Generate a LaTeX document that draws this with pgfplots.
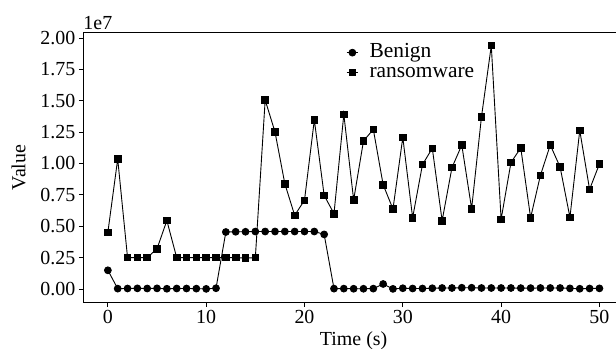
\documentclass[border=0pt]{standalone}
\usepackage{pgfplots}
\pgfplotsset{compat=1.18}
\usepackage{fontspec}
\setmainfont{Liberation Serif}
\begin{document}
\begin{tikzpicture}[font=\fontsize{20}{24}\selectfont]
\begin{axis}[
  scale only axis,
  width=540.7bp, height=269.6bp,
  xmin=-2.5, xmax=52.5,
  ymin=-0.106, ymax=2.042,
  xtick={0,10,20,30,40,50},
  ytick={0,0.25,0.5,0.75,1,1.25,1.5,1.75,2},
  yticklabel style={/pgf/number format/.cd, fixed, fixed zerofill, precision=2},
  /pgf/number format/assume math mode=true,
  tick label style={font=\fontsize{20}{24}\selectfont},
  label style={font=\fontsize{20}{24}\selectfont},
  xtick pos=lower, ytick pos=left,
  tick align=outside,
  major tick length=4.5bp,
  tick style={black, line width=0.8bp},
  axis line style={line width=0.9bp},
  xlabel={Time (s)}, ylabel={Value},
  xlabel style={yshift=-1bp},
  ylabel style={yshift=8bp},
  legend style={draw=none, fill=none, at={(0.486,0.962)}, anchor=north west,
    font=\fontsize{21.5}{24}\selectfont, inner sep=0bp, row sep=1bp,
    nodes={inner sep=1bp, text height=13bp, text depth=4bp},
    /tikz/every odd column/.append style={column sep=10bp}},
  legend cell align=left,
  legend image code/.code={\draw[mark repeat=2,mark phase=2] plot coordinates {(0cm,0cm) (0.2cm,0cm) (0.4cm,0cm)};},
  every axis plot/.append style={black, line width=0.9bp},
]
\addplot[mark=*, mark size=3.4bp] coordinates {
(0,0.149) (1,0.003) (2,0.004) (3,0.005) (4,0.004) (5,0.005) (6,0.002) (7,0.004) (8,0.004) (9,0.003) (10,0.001) (11,0.006)
(12,0.454) (13,0.456) (14,0.456) (15,0.458) (16,0.458) (17,0.458) (18,0.458) (19,0.458) (20,0.458) (21,0.458) (22,0.435)
(23,0.003) (24,0.003) (25,0.002) (26,0.002) (27,0.003) (28,0.040) (29,0.001) (30,0.006) (31,0.004) (32,0.004) (33,0.006)
(34,0.008) (35,0.008) (36,0.010) (37,0.010) (38,0.008) (39,0.008) (40,0.008) (41,0.008) (42,0.007) (43,0.007) (44,0.008)
(45,0.008) (46,0.008) (47,0.005) (48,0.002) (49,0.004) (50,0.005)
};
\addlegendentry{Benign}
\addplot[mark=square*, mark size=3.3bp] coordinates {
(0,0.452) (1,1.036) (2,0.25) (3,0.25) (4,0.25) (5,0.321) (6,0.545) (7,0.25) (8,0.25) (9,0.25) (10,0.25) (11,0.25)
(12,0.25) (13,0.25) (14,0.246) (15,0.25) (16,1.506) (17,1.251) (18,0.839) (19,0.587) (20,0.707) (21,1.347) (22,0.746)
(23,0.600) (24,1.392) (25,0.709) (26,1.179) (27,1.272) (28,0.831) (29,0.637) (30,1.208) (31,0.568) (32,0.991) (33,1.121)
(34,0.544) (35,0.967) (36,1.147) (37,0.640) (38,1.370) (39,1.939) (40,0.555) (41,1.007) (42,1.124) (43,0.568) (44,0.906)
(45,1.147) (46,0.972) (47,0.571) (48,1.264) (49,0.794) (50,0.996)
};
\addlegendentry{ransomware}
\coordinate (ll) at (rel axis cs:0,0);
\coordinate (tl) at (rel axis cs:0,1);
\end{axis}
\node[anchor=south west, inner sep=0pt, yshift=3bp] at (tl) {1e7};
\pgfresetboundingbox
\path[use as bounding box] ([xshift=-83.3bp,yshift=-46.7bp]ll) rectangle ([xshift=532.7bp,yshift=302.3bp]ll);
\end{tikzpicture}
\end{document}
